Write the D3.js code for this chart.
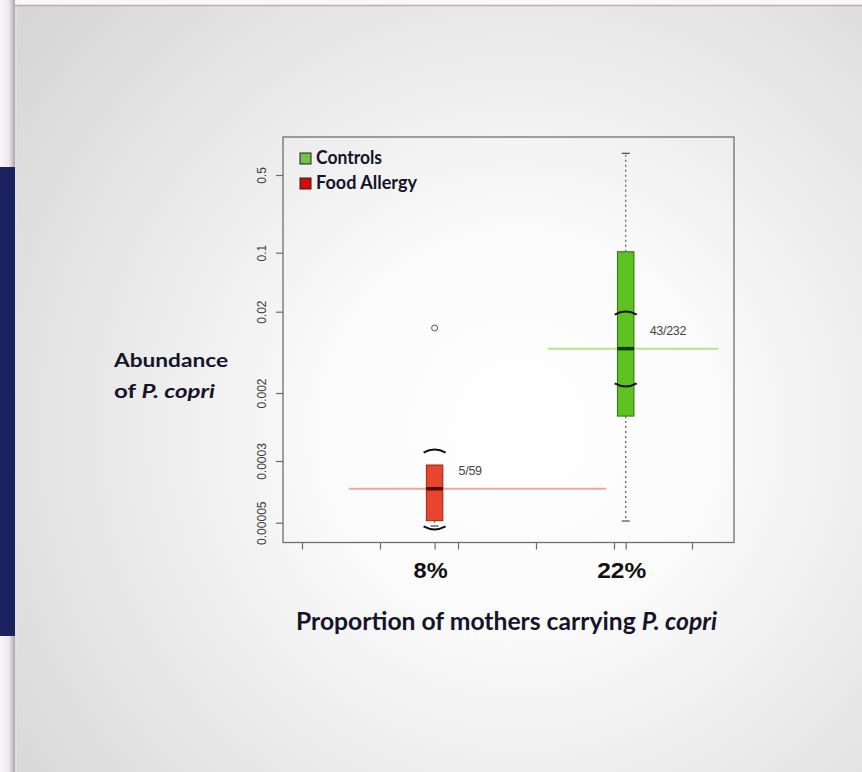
<!DOCTYPE html>
<html>
<head>
<meta charset="utf-8">
<script src="https://cdn.jsdelivr.net/npm/d3@7/dist/d3.min.js"></script>
<style>
  html, body { margin: 0; padding: 0; background: #fbf6f9; }
  svg { display: block; }
</style>
</head>
<body>
<svg id="chart" width="862" height="772"></svg>
<script>
// ---- data ----
const groups = ["Food Allergy", "Controls"];
const xLabels = ["8%", "22%"];
const carriers = ["5/59", "43/232"];
const boxPos = [1.7, 4.15];                 // positions on the bottom axis
const whiskerLow = [0.0000454, 0.0000525];
const q1 = [0.000053, 0.00105];
const median = [0.000134, 0.00702];
const q3 = [0.000267, 0.102];
const whiskerHigh = [0.000267, 0.783];
const notchLow = [0.0000417, 0.00244];
const notchHigh = [0.000407, 0.0198];
const outliers = [[0.0126], []];
const yTickValues = [0.00005, 0.0003, 0.002, 0.02, 0.1, 0.5];
const yTickLabels = ["0.00005", "0.0003", "0.002", "0.02", "0.1", "0.5"];
const xAxisTicks = [0, 1, 2, 3, 4, 5];
const legendLabels = ["Controls", "Food Allergy"];

// ---- styling ----
const boxFill = ["#e8462c", "#5ec220"];
const boxStroke = ["#9a2412", "#2f6e12"];
const medianColor = ["#4a0c05", "#0c3a06"];
const refColor = ["#f3a4a2", "#b9e28f"];
const legendFill = ["#74c24a", "#d60a0a"];
const refSpan = [[0.6, 3.9], [3.15, 5.34]];
const titleFont = "Lato, 'Open Sans', sans-serif";

const svg = d3.select("#chart");

// ---- slide background ----
const defs = svg.append("defs");
const rg = defs.append("radialGradient").attr("id", "slideBg")
  .attr("gradientUnits", "userSpaceOnUse")
  .attr("cx", 520).attr("cy", 430).attr("r", 640);
rg.append("stop").attr("offset", 0).attr("stop-color", "#ffffff");
rg.append("stop").attr("offset", 0.3).attr("stop-color", "#fbfbfb");
rg.append("stop").attr("offset", 0.7).attr("stop-color", "#e6e6e6");
rg.append("stop").attr("offset", 1).attr("stop-color", "#d6d6d6");

const sh = defs.append("linearGradient").attr("id", "leftShade")
  .attr("x1", 0).attr("x2", 1).attr("y1", 0).attr("y2", 0);
sh.append("stop").attr("offset", 0).attr("stop-color", "#fbf6f9");
sh.append("stop").attr("offset", 0.6).attr("stop-color", "#ece6ea");
sh.append("stop").attr("offset", 1).attr("stop-color", "#a9a9ab");

svg.append("rect").attr("x", 0).attr("y", 0).attr("width", 862).attr("height", 772).attr("fill", "#fbf6f9");
svg.append("rect").attr("x", 0).attr("y", 0).attr("width", 15).attr("height", 772).attr("fill", "url(#leftShade)");
svg.append("rect").attr("x", 15).attr("y", 6).attr("width", 847).attr("height", 766).attr("fill", "url(#slideBg)");
svg.append("line").attr("x1", 15).attr("x2", 862).attr("y1", 5.5).attr("y2", 5.5)
  .attr("stroke", "#b2b0b2").attr("stroke-width", 1.5);
svg.append("line").attr("x1", 14.5).attr("x2", 14.5).attr("y1", 5).attr("y2", 772)
  .attr("stroke", "#b2b0b2").attr("stroke-width", 1.5);
svg.append("line").attr("x1", 16).attr("x2", 16).attr("y1", 6).attr("y2", 772)
  .attr("stroke", "#e2e2e2").attr("stroke-width", 1.5);
svg.append("rect").attr("x", 0).attr("y", 167).attr("width", 15).attr("height", 469).attr("fill", "#1c2260");

// ---- scales ----
const frame = { left: 283, right: 734, top: 137, bottom: 542.5 };
const y = d3.scaleLog()
  .domain(yTickValues)
  .range([522.7, 461, 393, 311.7, 252.7, 175]);
const x = d3.scaleLinear().domain([0, 5]).range([302, 692]);

// ---- plot frame ----
svg.append("rect")
  .attr("x", frame.left).attr("y", frame.top)
  .attr("width", frame.right - frame.left).attr("height", frame.bottom - frame.top)
  .attr("fill", "none").attr("stroke", "#6f6f6f").attr("stroke-width", 1.3);

// ---- y axis ----
const yAxis = d3.axisLeft(y).tickValues(yTickValues)
  .tickFormat((d, i) => yTickLabels[i]).tickSize(7).tickPadding(0);
const gy = svg.append("g").attr("transform", `translate(${frame.left},0)`).call(yAxis);
gy.select(".domain").remove();
gy.selectAll(".tick line").attr("stroke", "#6a6a6a").attr("stroke-width", 1.2);
gy.selectAll(".tick text")
  .attr("transform", "rotate(-90)")
  .attr("x", 0).attr("y", -17)
  .attr("dy", 0)
  .attr("text-anchor", "middle")
  .attr("font-family", "Liberation Sans, Arial, sans-serif")
  .attr("font-size", 12).attr("fill", "#3a3a3a");

// ---- x axis ----
const xAxis = d3.axisBottom(x).tickValues(xAxisTicks.concat(boxPos)).tickFormat("").tickSize(7);
const gx = svg.append("g").attr("transform", `translate(0,${frame.bottom})`).call(xAxis);
gx.select(".domain").remove();
gx.selectAll(".tick line").attr("stroke", "#6a6a6a").attr("stroke-width", 1.2);

svg.selectAll("text.xlab").data(xLabels).join("text")
  .attr("class", "xlab")
  .attr("x", (d, i) => x(boxPos[i]) - 4).attr("y", 578)
  .attr("text-anchor", "middle")
  .attr("font-family", "Liberation Sans, Arial, sans-serif")
  .attr("font-weight", "bold").attr("font-size", 22).attr("fill", "#111")
  .attr("textLength", (d, i) => i === 0 ? 34 : 49)
  .attr("lengthAdjust", "spacingAndGlyphs")
  .text(d => d);

// ---- reference lines (horizontal at medians) ----
svg.selectAll("line.ref").data(groups).join("line")
  .attr("class", "ref")
  .attr("x1", (d, i) => x(refSpan[i][0])).attr("x2", (d, i) => x(refSpan[i][1]))
  .attr("y1", (d, i) => y(median[i])).attr("y2", (d, i) => y(median[i]))
  .attr("stroke", (d, i) => refColor[i]).attr("stroke-width", 2);

// ---- box plots ----
const boxW = 16.5;
const g = svg.selectAll("g.box").data(groups).join("g").attr("class", "box");
g.each(function (d, i) {
  const s = d3.select(this);
  const cx = x(boxPos[i]);
  // whiskers
  s.append("line").attr("x1", cx).attr("x2", cx)
    .attr("y1", y(q3[i])).attr("y2", y(whiskerHigh[i]))
    .attr("stroke", "#666").attr("stroke-width", 1.3).attr("stroke-dasharray", "2,3");
  s.append("line").attr("x1", cx).attr("x2", cx)
    .attr("y1", y(q1[i])).attr("y2", y(whiskerLow[i]))
    .attr("stroke", "#666").attr("stroke-width", 1.3).attr("stroke-dasharray", "2,3");
  if (whiskerHigh[i] > q3[i]) {
    s.append("line").attr("x1", cx - 4).attr("x2", cx + 4)
      .attr("y1", y(whiskerHigh[i])).attr("y2", y(whiskerHigh[i]))
      .attr("stroke", "#555").attr("stroke-width", 1.3);
  }
  s.append("line").attr("x1", cx - 4).attr("x2", cx + 4)
    .attr("y1", y(whiskerLow[i])).attr("y2", y(whiskerLow[i]))
    .attr("stroke", "#555").attr("stroke-width", 1.3);
  // box
  s.append("rect")
    .attr("x", cx - boxW / 2).attr("y", y(q3[i]))
    .attr("width", boxW).attr("height", y(q1[i]) - y(q3[i]))
    .attr("fill", boxFill[i]).attr("stroke", boxStroke[i]).attr("stroke-width", 1);
  // median
  s.append("line").attr("x1", cx - boxW / 2).attr("x2", cx + boxW / 2)
    .attr("y1", y(median[i])).attr("y2", y(median[i]))
    .attr("stroke", medianColor[i]).attr("stroke-width", 3.5);
  // notch brackets
  const nh = y(notchHigh[i]), nl = y(notchLow[i]);
  s.append("path")
    .attr("d", `M${cx - 11},${nh + 2.5} Q${cx},${nh - 3.5} ${cx + 11},${nh + 2.5}`)
    .attr("fill", "none").attr("stroke", "#111").attr("stroke-width", 2);
  s.append("path")
    .attr("d", `M${cx - 11},${nl - 2.5} Q${cx},${nl + 3.5} ${cx + 11},${nl - 2.5}`)
    .attr("fill", "none").attr("stroke", "#111").attr("stroke-width", 2);
  // outliers
  s.selectAll("circle").data(outliers[i]).join("circle")
    .attr("cx", cx).attr("cy", v => y(v)).attr("r", 3)
    .attr("fill", "none").attr("stroke", "#555").attr("stroke-width", 1);
  // carrier counts
  s.append("text")
    .attr("x", cx + 24).attr("y", y(median[i]) - 14)
    .attr("font-family", "Liberation Sans, Arial, sans-serif")
    .attr("font-size", 12.5).attr("fill", "#444")
    .attr("letter-spacing", -0.3)
    .text(carriers[i]);
});

// ---- legend ----
const lg = svg.selectAll("g.legend").data(legendLabels).join("g")
  .attr("class", "legend")
  .attr("transform", (d, i) => `translate(300,${153 + i * 25})`);
lg.append("rect").attr("x", 0).attr("y", 0).attr("width", 11).attr("height", 11)
  .attr("fill", (d, i) => legendFill[i]).attr("stroke", "#222").attr("stroke-width", 1);
lg.append("text").attr("x", 16).attr("y", 10.5)
  .attr("font-family", titleFont)
  .attr("font-weight", "bold").attr("font-size", 18).attr("fill", "#14142a")
  .attr("textLength", (d, i) => i === 0 ? 66 : 101)
  .attr("lengthAdjust", "spacingAndGlyphs")
  .text(d => d);

// ---- axis titles ----
svg.append("text")
  .attr("x", 114).attr("y", 366.5)
  .attr("font-family", titleFont)
  .attr("font-weight", "bold").attr("font-size", 19.5).attr("fill", "#14142a")
  .attr("textLength", 114).attr("lengthAdjust", "spacingAndGlyphs")
  .text("Abundance");
const yt2 = svg.append("text")
  .attr("x", 114).attr("y", 398)
  .attr("font-family", titleFont)
  .attr("font-weight", "bold").attr("font-size", 19.5).attr("fill", "#14142a")
  .attr("textLength", 101).attr("lengthAdjust", "spacingAndGlyphs");
yt2.append("tspan").text("of ");
yt2.append("tspan").attr("font-style", "italic").text("P. copri");

const xt = svg.append("text")
  .attr("x", 296).attr("y", 630)
  .attr("font-family", titleFont)
  .attr("font-weight", "bold").attr("font-size", 24).attr("fill", "#14142a")
  .attr("textLength", 421).attr("lengthAdjust", "spacingAndGlyphs");
xt.append("tspan").text("Proportion of mothers carrying ");
xt.append("tspan").attr("font-style", "italic").text("P. copri");
</script>
</body>
</html>
